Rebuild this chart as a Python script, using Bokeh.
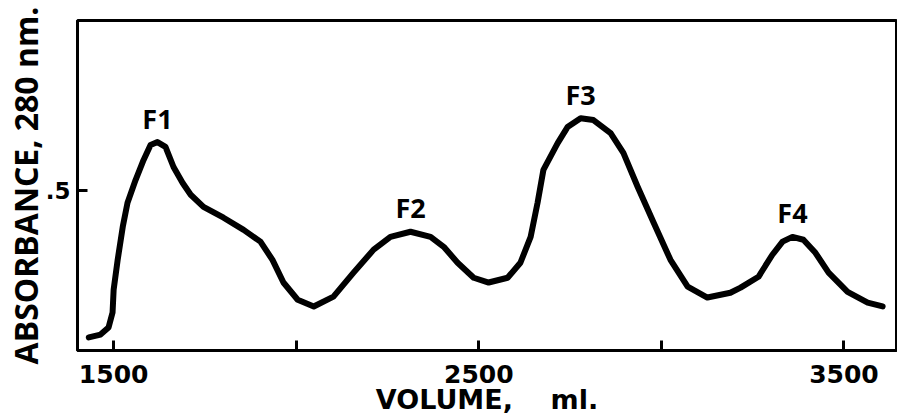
import numpy as np
from bokeh.plotting import figure
from bokeh.models import FixedTicker, Range1d, ColumnDataSource
from bokeh.embed import file_html
from bokeh.resources import INLINE
from bokeh.core.properties import value

# ---- data ----
volume_ml = [1432, 1464, 1486, 1497, 1500, 1511, 1525, 1538, 1560, 1582, 1601, 1620,
             1642, 1664, 1689, 1711, 1746, 1801, 1856, 1902, 1935, 1965, 2004, 2048,
             2102, 2157, 2212, 2258, 2313, 2368, 2404, 2442, 2486, 2527, 2579, 2614,
             2642, 2661, 2677, 2716, 2743, 2779, 2814, 2861, 2896, 2935, 2979, 3025,
             3072, 3126, 3189, 3217, 3266, 3304, 3332, 3359, 3389, 3422, 3458, 3510,
             3565, 3606]
absorbance = [0.041, 0.050, 0.072, 0.119, 0.191, 0.284, 0.388, 0.463, 0.534, 0.597, 0.644, 0.653,
              0.638, 0.575, 0.525, 0.488, 0.450, 0.416, 0.378, 0.341, 0.284, 0.213, 0.159, 0.138,
              0.169, 0.244, 0.316, 0.356, 0.372, 0.356, 0.325, 0.275, 0.228, 0.213, 0.228, 0.275,
              0.356, 0.463, 0.566, 0.650, 0.700, 0.728, 0.722, 0.681, 0.619, 0.513, 0.400, 0.284,
              0.200, 0.166, 0.181, 0.197, 0.231, 0.300, 0.341, 0.356, 0.347, 0.306, 0.244, 0.184,
              0.150, 0.138]
peak_names = ["F1", "F2", "F3", "F4"]
x_ticks = [1500, 2000, 2500, 3000, 3500]
x_tick_labels = {1500: "1500", 2000: "", 2500: "2500", 3000: "", 3500: "3500"}
y_ticks = [0.5]
y_tick_labels = {0.5: ".5"}
x_title = "VOLUME,\u00a0\u00a0\u00a0\u00a0ml."
y_title = "ABSORBANCE, 280 nm."

# local maxima of the trace carry the peak labels
a = np.array(absorbance)
peak_idx = [i for i in range(1, len(a) - 1) if a[i] > a[i - 1] and a[i] >= a[i + 1]]
peaks = ColumnDataSource(dict(x=[volume_ml[i] for i in peak_idx],
                              y=[absorbance[i] for i in peak_idx],
                              t=peak_names[:len(peak_idx)]))

p = figure(width=897, height=417, output_backend="svg", toolbar_location=None,
           x_range=Range1d(1401, 3644), y_range=Range1d(0, 1.034),
           min_border_left=77, min_border_right=1, min_border_top=20, min_border_bottom=66)

p.line(volume_ml, absorbance, line_color="black", line_width=6,
       line_join="round", line_cap="round")
p.text(x="x", y="y", text="t", source=peaks, y_offset=-24,
       text_align="center", text_baseline="middle",
       text_font=value("Open Sans"), text_font_style="bold",
       text_font_size="27px", text_color="black")

p.grid.visible = False
p.outline_line_color = "black"
p.outline_line_width = 3
p.background_fill_color = "white"
p.border_fill_color = "white"

for ax in (p.xaxis[0], p.yaxis[0]):
    ax.axis_line_width = 3
    ax.axis_line_color = "black"
    ax.major_tick_line_width = 3
    ax.major_tick_in = 10
    ax.major_tick_out = 0
    ax.minor_tick_line_color = None
    ax.major_label_text_font_style = "bold"
    ax.axis_label_text_font_style = "bold"
    ax.major_label_text_color = "black"
    ax.axis_label_text_color = "black"

xa = p.xaxis[0]
xa.ticker = FixedTicker(ticks=x_ticks)
xa.major_label_overrides = x_tick_labels
xa.major_label_text_font = "DejaVu Sans"
xa.major_label_text_font_size = "25px"
xa.major_label_standoff = 14
xa.axis_label = x_title
xa.axis_label_text_font = "DejaVu Sans"
xa.axis_label_text_font_size = "27px"
xa.axis_label_standoff = -2

ya = p.yaxis[0]
ya.ticker = FixedTicker(ticks=y_ticks)
ya.major_label_overrides = y_tick_labels
ya.major_label_text_font = "DejaVu Sans"
ya.major_label_text_font_size = "23px"
ya.major_label_standoff = 7
ya.axis_label = y_title
ya.axis_label_text_font = "Open Sans"
ya.axis_label_text_font_size = "32px"
ya.axis_label_standoff = -4

open("out.html", "w").write(file_html(p, INLINE))
